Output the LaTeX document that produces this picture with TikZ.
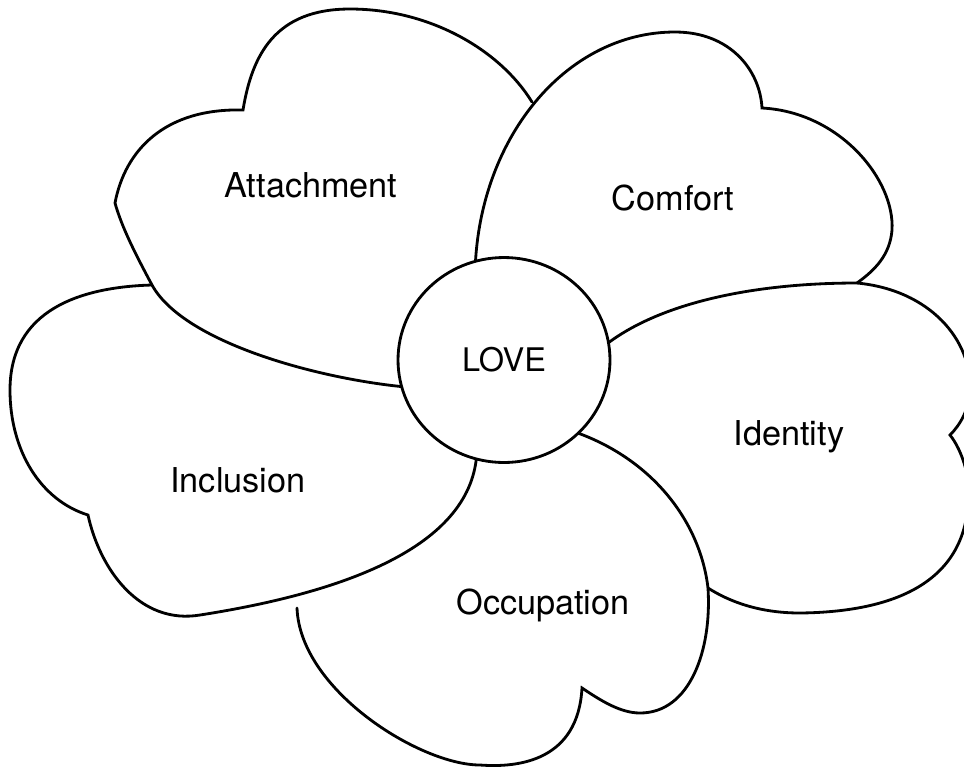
\documentclass[tikz,border=0pt]{standalone}
\usepackage{fontspec}
\usetikzlibrary{shapes.geometric}
\setmainfont{TeX Gyre Heros}
\begin{document}
\begin{tikzpicture}[x=0.02cm,y=-0.02cm,
  petal/.style={line width=1.6pt, line join=miter, line cap=round},
  lbl/.style={font=\fontsize{19.5}{23}\selectfont, inner sep=0pt},
  hub/.style={ellipse, draw, line width=1.6pt, fill=white, inner sep=0pt, minimum width=4.24cm, minimum height=4.1cm, font=\fontsize{18.5}{22}\selectfont}]
\useasboundingbox (0,0) rectangle (964,769);
\clip (0,0) rectangle (964,769);

% Attachment
\draw[petal] (418,388) .. controls (330,382) and (185,345) .. (152,285)
  .. controls (136,255) and (122,228) .. (115,203)
  .. controls (125,150) and (165,108) .. (243,110)
  .. controls (252,55) and (275,9) .. (350,9)
  .. controls (430,9) and (500,50) .. (532,102);

% Comfort
\draw[petal] (475,275) .. controls (477,140) and (565,32) .. (675,32)
  .. controls (730,32) and (760,70) .. (762,108)
  .. controls (840,112) and (895,180) .. (892,230)
  .. controls (890,255) and (875,270) .. (857,283);

% Identity
\draw[petal] (596,353) .. controls (645,308) and (740,283) .. (857,283)
  .. controls (930,290) and (972,340) .. (970,390)
  .. controls (969,410) and (960,425) .. (950,435)
  .. controls (962,450) and (972,480) .. (968,505)
  .. controls (962,585) and (890,612) .. (800,613)
  .. controls (760,613) and (730,602) .. (708,588);

% Occupation
\draw[petal] (566,429) .. controls (650,455) and (700,520) .. (708,588)
  .. controls (712,650) and (690,713) .. (640,713)
  .. controls (620,713) and (600,700) .. (582,688)
  .. controls (578,760) and (520,768) .. (480,765)
  .. controls (420,765) and (300,690) .. (297,608);

% Inclusion
\draw[petal] (477,448) .. controls (476,540) and (360,590) .. (200,615)
  .. controls (140,625) and (100,570) .. (88,515)
  .. controls (40,500) and (10,450) .. (10,390)
  .. controls (10,310) and (80,287) .. (152,285);

% centre
\node[hub] (love) at (504,360) {LOVE};

% labels
\node[lbl] (attachment) at (311,185) {Attachment};
\node[lbl] (comfort) at (673,198) {Comfort};
\node[lbl] (identity) at (789,437) {Identity};
\node[lbl] (inclusion) at (238,480) {Inclusion};
\node[lbl] (occupation) at (543,605) {Occupation};
\end{tikzpicture}
\end{document}
